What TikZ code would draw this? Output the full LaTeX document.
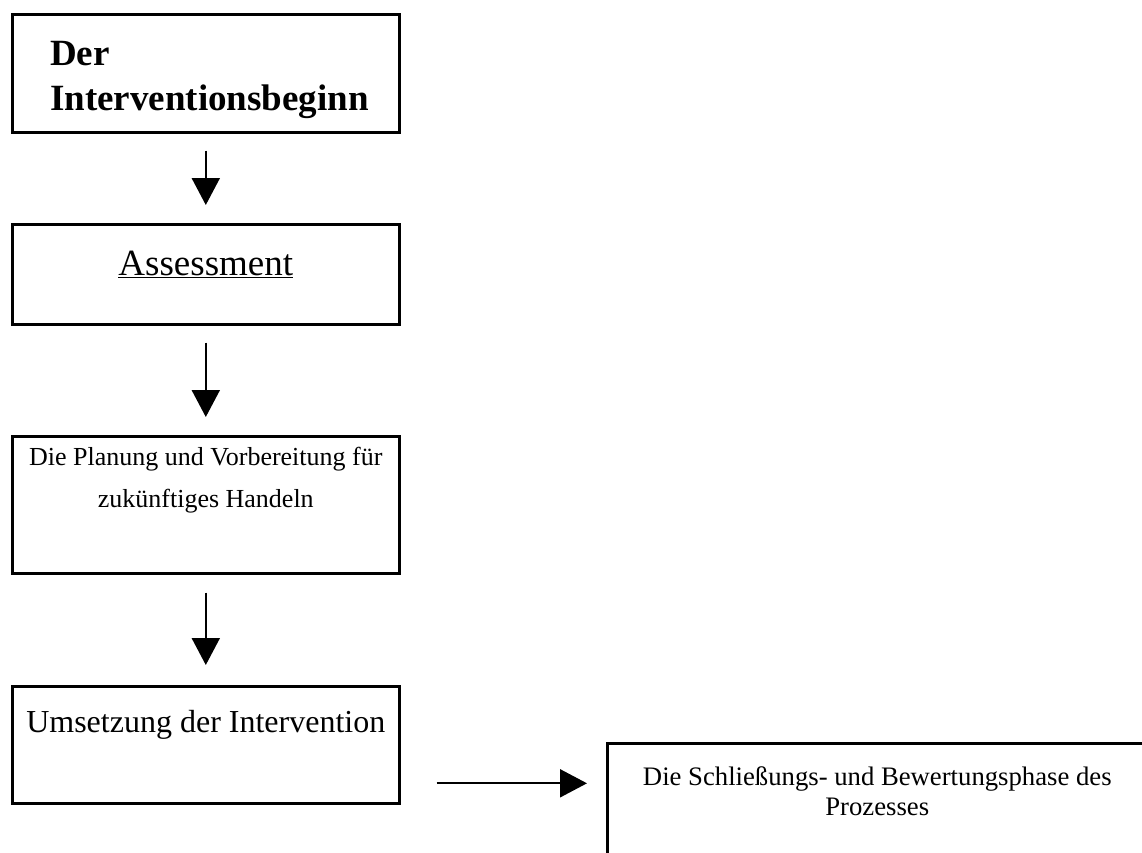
\documentclass[tikz,border=0pt]{standalone}
\usepackage{fontspec}
\setmainfont{Liberation Serif}
\usetikzlibrary{arrows.meta}

\tikzset{
  stagebox/.style={draw=black,line width=2.6pt,anchor=north west,inner sep=0pt},
  flowarrow/.style={line width=2pt,-{Triangle[width=28pt,length=27pt]}},
  stagetext/.style={anchor=base,inner sep=0pt,align=center}
}

\begin{document}
\begin{tikzpicture}[x=1pt,y=-1pt]
        \useasboundingbox (0,0) rectangle (1142,852);
        \clip (0,0) rectangle (1142,852);
        % boxes
        \node [stagebox,minimum width=387pt,minimum height=118pt] (beginn) at (11,13) {};
        \node [stagebox,minimum width=387pt,minimum height=100pt] (assess) at (11,223) {};
        \node [stagebox,minimum width=387pt,minimum height=137pt] (plan) at (11,435) {};
        \node [stagebox,minimum width=387pt,minimum height=117pt] (umsetzung) at (11,685) {};
        \node [stagebox,minimum width=540pt,minimum height=118pt] (schluss) at (606,742) {};
        % texts (base = last line)
        \node [stagetext,anchor=base west,align=left,font=\fontsize{37}{45}\selectfont\bfseries] (beginntxt) at ([xshift=39pt,yshift=-97pt]beginn.north west) {Der\\Interventionsbeginn};
        \node [stagetext,font=\fontsize{37}{42}\selectfont] (assesstxt) at ([yshift=-52pt]assess.north) {\underline{Assessment}};
        \node [stagetext,font=\fontsize{26}{42}\selectfont] (plantxt) at ([yshift=-72pt]plan.north) {Die Planung und Vorbereitung für\\zukünftiges Handeln};
        \node [stagetext,font=\fontsize{32}{38}\selectfont] (umsetzungtxt) at ([yshift=-47pt]umsetzung.north) {Umsetzung der Intervention};
        \node [stagetext,font=\fontsize{26.7}{30}\selectfont] (schlusstxt) at ([yshift=-73pt]schluss.north) {Die Schließungs- und Bewertungsphase des\\Prozesses};
        % arrows
        \draw [flowarrow] ([yshift=-17pt]beginn.south) -- ([yshift=18pt]assess.north);
        \draw [flowarrow] ([yshift=-17pt]assess.south) -- ([yshift=18pt]plan.north);
        \draw [flowarrow] ([yshift=-18pt]plan.south) -- ([yshift=20pt]umsetzung.north);
        \draw [flowarrow] ([xshift=36pt,yshift=-38.5pt]umsetzung.east) -- ([xshift=-19pt,yshift=-38.5pt]umsetzung.east -| schluss.west);
\end{tikzpicture}
\end{document}
